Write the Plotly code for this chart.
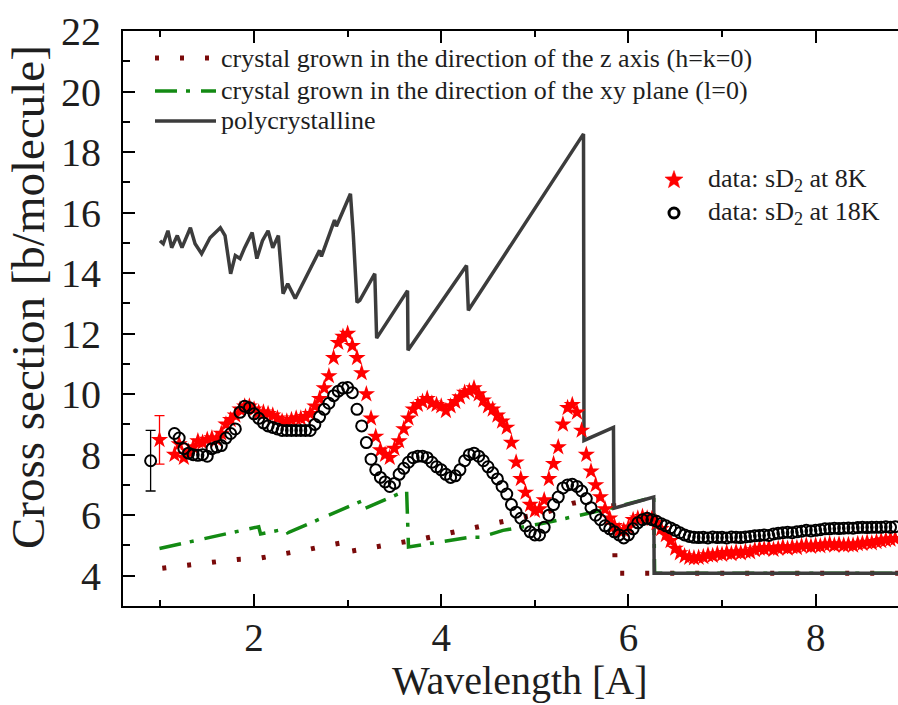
import math
import plotly.graph_objects as go

# ---------------- data ----------------
wl_data = [1.15, 1.20, 1.25, 1.30, 1.35, 1.40, 1.45, 1.50, 1.55, 1.60,
           1.65, 1.70, 1.75, 1.80, 1.85, 1.90, 1.95, 2.00, 2.05, 2.10,
           2.15, 2.20, 2.25, 2.30, 2.35, 2.40, 2.45, 2.50, 2.55, 2.60,
           2.65, 2.70, 2.75, 2.80, 2.85, 2.90, 2.95, 3.00, 3.05, 3.10,
           3.15, 3.20, 3.25, 3.30, 3.35, 3.40, 3.45, 3.50, 3.55, 3.60,
           3.65, 3.70, 3.75, 3.80, 3.85, 3.90, 3.95, 4.00, 4.05, 4.10,
           4.15, 4.20, 4.25, 4.30, 4.35, 4.40, 4.45, 4.50, 4.55, 4.60,
           4.65, 4.70, 4.75, 4.80, 4.85, 4.90, 4.95, 5.00, 5.05, 5.10,
           5.15, 5.20, 5.25, 5.30, 5.35, 5.40, 5.45, 5.50, 5.55, 5.60,
           5.65, 5.70, 5.75, 5.80, 5.85, 5.90, 5.95, 6.00, 6.05, 6.10,
           6.15, 6.20, 6.25, 6.30, 6.35, 6.40, 6.45, 6.50, 6.55, 6.60,
           6.65, 6.70, 6.75, 6.80, 6.85, 6.90, 6.95, 7.00, 7.05, 7.10,
           7.15, 7.20, 7.25, 7.30, 7.35, 7.40, 7.45, 7.50, 7.55, 7.60,
           7.65, 7.70, 7.75, 7.80, 7.85, 7.90, 7.95, 8.00, 8.05, 8.10,
           8.15, 8.20, 8.25, 8.30, 8.35, 8.40, 8.45, 8.50, 8.55, 8.60,
           8.65, 8.70, 8.75, 8.80, 8.85]

sd2_8K = [8.00, 8.35, 7.90, 8.10, 8.25, 8.45, 8.40, 8.50, 8.55, 8.50,
          8.70, 9.00, 9.15, 9.30, 9.50, 9.60, 9.60, 9.50, 9.40, 9.40,
          9.35, 9.30, 9.20, 9.10, 9.10, 9.15, 9.20, 9.20, 9.25, 9.35,
          9.60, 9.85, 10.20, 10.60, 11.20, 11.70, 11.90, 12.00, 11.60, 11.20,
          10.70, 10.00, 9.20, 8.60, 8.15, 8.00, 7.90, 8.20, 8.45, 8.85,
          9.20, 9.50, 9.65, 9.75, 9.85, 9.70, 9.65, 9.60, 9.45, 9.60,
          9.75, 9.90, 10.05, 10.10, 10.20, 10.00, 9.80, 9.60, 9.50, 9.30,
          9.10, 8.90, 8.40, 7.75, 7.20, 6.75, 6.35, 6.15, 6.20, 6.50,
          7.20, 7.70, 8.25, 9.00, 9.55, 9.65, 9.40, 8.80, 8.00, 7.45,
          7.00, 6.60, 6.20, 5.90, 5.65, 5.50, 5.50, 5.60, 5.85, 5.90,
          5.95, 5.90, 5.88, 5.75, 5.55, 5.35, 5.15, 4.90, 4.75, 4.65,
          4.60, 4.58, 4.60, 4.62, 4.68, 4.66, 4.72, 4.70, 4.76, 4.72,
          4.78, 4.75, 4.80, 4.78, 4.85, 4.90, 4.88, 4.92, 4.86, 4.90,
          4.95, 4.90, 4.95, 4.92, 4.98, 5.00, 4.96, 5.00, 4.98, 5.02,
          5.05, 5.00, 5.04, 5.00, 5.02, 5.00, 5.05, 5.06, 5.10, 5.08,
          5.12, 5.15, 5.18, 5.20, 5.22]

sd2_18K = [8.70, 8.55, 8.20, 8.05, 8.00, 7.98, 8.00, 7.95, 8.20, 8.25,
           8.30, 8.55, 8.70, 8.85, 9.40, 9.60, 9.55, 9.35, 9.20, 9.05,
           8.95, 8.90, 8.85, 8.80, 8.80, 8.80, 8.80, 8.80, 8.80, 8.80,
           9.00, 9.25, 9.50, 9.70, 9.95, 10.10, 10.20, 10.22, 10.05, 9.50,
           8.95, 8.40, 7.85, 7.50, 7.25, 7.10, 6.95, 7.05, 7.35, 7.55,
           7.75, 7.90, 7.95, 7.95, 7.90, 7.75, 7.60, 7.50, 7.35, 7.25,
           7.30, 7.50, 7.80, 8.00, 8.05, 7.95, 7.80, 7.60, 7.40, 7.20,
           6.95, 6.70, 6.35, 6.10, 5.90, 5.65, 5.45, 5.35, 5.35, 5.60,
           6.00, 6.35, 6.60, 6.90, 7.00, 7.02, 6.95, 6.80, 6.55, 6.25,
           6.00, 5.85, 5.65, 5.55, 5.45, 5.35, 5.25, 5.35, 5.55, 5.75,
           5.85, 5.90, 5.85, 5.80, 5.72, 5.65, 5.58, 5.50, 5.42, 5.35,
           5.30, 5.27, 5.26, 5.27, 5.25, 5.28, 5.26, 5.27, 5.25, 5.28,
           5.27, 5.26, 5.28, 5.30, 5.32, 5.33, 5.35, 5.33, 5.38, 5.40,
           5.42, 5.44, 5.42, 5.45, 5.47, 5.50, 5.48, 5.50, 5.52, 5.55,
           5.55, 5.57, 5.56, 5.57, 5.58, 5.57, 5.59, 5.60, 5.59, 5.60,
           5.60, 5.60, 5.62, 5.60, 5.62]

# single points with error bars
err8_x, err8_y, err8_e = [0.99], [8.49], [0.80]
err18_x, err18_y, err18_e = [0.895], [7.80], [1.00]

poly_x = [0.995, 1.03, 1.08, 1.12, 1.18, 1.23, 1.32, 1.37, 1.44, 1.53,
          1.64, 1.69, 1.75, 1.80, 1.85, 1.90, 1.98, 2.03, 2.09, 2.15,
          2.20, 2.26, 2.31, 2.36, 2.44, 2.70, 2.72, 2.86, 2.88, 3.03,
          3.06, 3.10, 3.13, 3.29, 3.31, 3.64, 3.645, 4.27, 4.29, 5.52,
          5.525, 5.84, 5.845, 6.27, 6.275, 8.88]
poly_y = [15.07, 14.97, 15.40, 14.84, 15.24, 14.84, 15.50, 14.97, 14.64, 15.17,
          15.50, 15.24, 13.98, 14.58, 14.48, 14.84, 15.34, 14.48, 15.07, 15.40,
          14.84, 15.24, 13.32, 13.65, 13.16, 14.75, 14.55, 15.75, 15.55, 16.62,
          15.30, 13.03, 13.10, 13.98, 11.85, 13.42, 11.45, 14.25, 12.77, 18.60,
          8.47, 8.90, 6.23, 6.60, 4.08, 4.08]

xy_x = [0.99, 1.50, 2.05, 2.07, 2.34, 2.36, 3.16, 3.18, 3.63, 3.65,
        4.10, 4.30, 4.42, 4.66, 5.09, 5.57, 5.84, 6.27, 6.28, 8.88]
xy_y = [4.90, 5.25, 5.62, 5.38, 5.55, 5.42, 6.48, 6.22, 6.82, 4.95,
        5.17, 5.27, 5.27, 5.50, 5.73, 6.06, 6.25, 6.60, 4.08, 4.08]

z_x = [1.02, 1.28, 1.55, 1.82, 2.06, 2.31, 2.58, 2.85, 2.96, 2.98,
       3.29, 3.56, 3.83, 4.07, 4.34, 4.61, 4.87, 5.13, 5.40, 5.84,
       5.86, 8.88]
z_y = [4.25, 4.35, 4.45, 4.54, 4.58, 4.71, 4.87, 5.04, 5.10, 4.78,
       4.94, 5.07, 5.24, 5.40, 5.57, 5.73, 5.93, 6.10, 6.39, 6.65,
       4.08, 4.08]

x_range = [0.6, 8.88]
y_range = [3, 22]

legend_lines = [
    "crystal grown in the direction of the z axis (h=k=0)",
    "crystal grown in the direction of the xy plane (l=0)",
    "polycrystalline",
]
legend_data = ["data: sD<sub>2</sub> at 8K", "data: sD<sub>2</sub> at 18K"]

# ---------------- styling ----------------
FONT = "Liberation Serif, Times New Roman, serif"
BROWN = "#7a0a0a"
GREEN = "#138a13"
GRAY = "#3c3c3c"
RED = "#ff0000"
TXT = "#1e1e1e"

W, H = 898, 705
ML, MR, MT, MB = 123, 0, 31, 99
PW, PH = W - ML - MR, H - MT - MB


def px(xp):
    return (xp - ML) / PW


def py(yp):
    return (H - MB - yp) / PH


fig = go.Figure()

fig.add_trace(go.Scatter(x=z_x, y=z_y, mode="lines", showlegend=False,
                         line=dict(color=BROWN, width=5, dash="4px,21px")))
fig.add_trace(go.Scatter(x=xy_x, y=xy_y, mode="lines", showlegend=False,
                         line=dict(color=GREEN, width=3.5, dash="22px,9px,4px,11px")))
fig.add_trace(go.Scatter(x=poly_x, y=poly_y, mode="lines", showlegend=False,
                         line=dict(color=GRAY, width=3.5)))

fig.add_trace(go.Scatter(x=wl_data, y=sd2_8K, mode="markers", showlegend=False,
                         marker=dict(symbol="star", size=13, color=RED, line=dict(width=0))))
fig.add_trace(go.Scatter(x=wl_data, y=sd2_18K, mode="markers", showlegend=False,
                         marker=dict(symbol="circle-open", size=11, color="black",
                                     line=dict(width=2, color="black"))))

fig.add_trace(go.Scatter(x=err8_x, y=err8_y, mode="markers", showlegend=False,
                         marker=dict(symbol="star", size=13, color=RED, line=dict(width=0)),
                         error_y=dict(type="data", array=err8_e, color=RED, thickness=1.3, width=5)))
fig.add_trace(go.Scatter(x=err18_x, y=err18_y, mode="markers", showlegend=False,
                         marker=dict(symbol="circle-open", size=11, color="black",
                                     line=dict(width=2, color="black")),
                         error_y=dict(type="data", array=err18_e, color="black", thickness=1.3, width=5)))

# ---------------- hand-made legends ----------------
shapes = []
annotations = []
rows = [58, 91, 121]
styles = [dict(color=BROWN, width=5, dash="4px,21px"),
          dict(color=GREEN, width=3.5, dash="22px,9px,4px,11px"),
          dict(color=GRAY, width=3.5)]
for yy, st, txt in zip(rows, styles, legend_lines):
    shapes.append(dict(type="line", xref="paper", yref="paper",
                       x0=px(155), x1=px(216), y0=py(yy), y1=py(yy), line=st))
    annotations.append(dict(xref="paper", yref="paper", x=px(219), y=py(yy),
                            xanchor="left", yanchor="middle", showarrow=False,
                            text=txt, font=dict(family=FONT, size=26, color=TXT)))


def star_path(R=9.5, r=3.9):
    pts = []
    for i in range(10):
        ang = math.pi / 2 + i * math.pi / 5
        rad = R if i % 2 == 0 else r
        pts.append((rad * math.cos(ang), rad * math.sin(ang)))
    return "M" + "L".join(f"{a:.2f},{b:.2f}" for a, b in pts) + "Z"


shapes.append(dict(type="path", xref="paper", yref="paper", xsizemode="pixel", ysizemode="pixel",
                   xanchor=px(674), yanchor=py(180), path=star_path(),
                   fillcolor=RED, line=dict(color=RED, width=0.5)))
shapes.append(dict(type="circle", xref="paper", yref="paper", xsizemode="pixel", ysizemode="pixel",
                   xanchor=px(674), yanchor=py(213), x0=-5, x1=5, y0=-5, y1=5,
                   line=dict(color="black", width=3)))
for yy, txt in zip([180, 213], legend_data):
    annotations.append(dict(xref="paper", yref="paper", x=px(706), y=py(yy),
                            xanchor="left", yanchor="middle", showarrow=False,
                            text=txt, font=dict(family=FONT, size=26, color=TXT)))

# axis titles
annotations.append(dict(xref="paper", yref="paper", x=px(520), y=py(704),
                        xanchor="center", yanchor="bottom", showarrow=False,
                        borderpad=0,
                        text="Wavelength [A]", font=dict(family=FONT, size=40, color=TXT)))
annotations.append(dict(xref="paper", yref="paper", x=px(28), y=py(297),
                        xanchor="center", yanchor="middle", showarrow=False, textangle=-90,
                        text="Cross section [b/molecule]", font=dict(family=FONT, size=47, color=TXT)))

fig.update_layout(
    width=W, height=H,
    margin=dict(l=ML, r=MR, t=MT, b=MB, pad=0),
    paper_bgcolor="white", plot_bgcolor="white",
    showlegend=False,
    shapes=shapes, annotations=annotations,
    xaxis=dict(range=x_range, showline=True, linecolor="black", linewidth=2, mirror="ticks",
               ticks="inside", ticklen=12, tickwidth=2, tickcolor="black",
               tick0=0, dtick=2, showgrid=False, zeroline=False,
               minor=dict(dtick=1, tick0=0, ticks="inside", ticklen=6, tickwidth=2, tickcolor="black",
                          showgrid=False),
               tickfont=dict(family=FONT, size=39, color=TXT), ticklabelstandoff=-4),
    yaxis=dict(range=y_range, showline=True, linecolor="black", linewidth=2, mirror=False,
               ticks="inside", ticklen=12, tickwidth=2, tickcolor="black",
               tick0=0, dtick=2, showgrid=False, zeroline=False,
               minor=dict(dtick=1, tick0=0, ticks="inside", ticklen=7, tickwidth=2, tickcolor="black",
                          showgrid=False),
               tickfont=dict(family=FONT, size=40, color=TXT), ticklabelstandoff=12),
)

fig.write_html("out.html")
